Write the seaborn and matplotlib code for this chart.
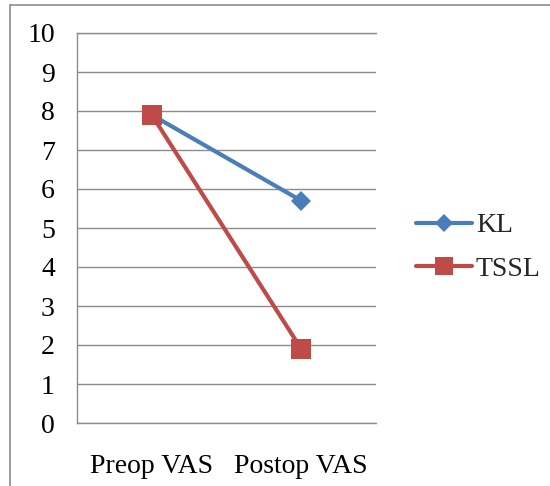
import matplotlib
matplotlib.use("Agg")
import matplotlib.pyplot as plt
from matplotlib.lines import Line2D
import seaborn as sns
import pandas as pd

categories = ["Preop VAS", "Postop VAS"]
kl_values = [7.9, 5.7]
tssl_values = [7.9, 1.9]
series_names = ["KL", "TSSL"]
y_ticks = list(range(0, 11))

df = pd.DataFrame({
    "cat": categories * 2,
    "val": kl_values + tssl_values,
    "series": [series_names[0]] * 2 + [series_names[1]] * 2,
})

sns.set_theme(style="white")
plt.rcParams["font.family"] = ["Liberation Serif", "DejaVu Serif"]

fig = plt.figure(figsize=(5.5, 4.86), dpi=100)
ax = fig.add_axes([77 / 550, 63 / 486, 299 / 550, 390 / 486])

palette = {"KL": "#4A7EBB", "TSSL": "#BE4B48"}
markers = {"KL": "D", "TSSL": "s"}
sizes_ms = {"KL": 10, "TSSL": 14}

for name in series_names:
    sub = df[df["series"] == name]
    sns.lineplot(data=sub, x="cat", y="val", ax=ax, color=palette[name],
                 marker=markers[name], markersize=sizes_ms[name],
                 markeredgewidth=0, linewidth=3, label=name, sort=False,
                 zorder=3)

ax.set_xlim(-0.5, 1.5)
ax.set_ylim(0, 10)
ax.set_yticks(y_ticks)
ax.set_xlabel("")
ax.set_ylabel("")
grid_c = "#8C8C8C"
ax.yaxis.grid(True, color=grid_c, linewidth=1.0)
ax.xaxis.grid(False)
for s in ["left", "top", "bottom"]:
    ax.spines[s].set_visible(True)
    ax.spines[s].set_color(grid_c)
    ax.spines[s].set_linewidth(1.0)
ax.spines["right"].set_visible(False)
ax.tick_params(axis="y", length=0, pad=16, labelsize=20, labelcolor="black")
ax.tick_params(axis="x", length=0, pad=22, labelsize=20, labelcolor="black")

leg = ax.legend(loc="center left", bbox_to_anchor=(1.097, 0.45), frameon=False,
                fontsize=20, handlelength=2.0, handletextpad=0.15,
                labelspacing=0.65, borderaxespad=0)
for h in leg.legend_handles:
    h.set_markersize(h.get_markersize() * 0.9)

fig.add_artist(Line2D([10 / 550, 10 / 550], [0, 1 - 5 / 486],
                      transform=fig.transFigure, color=grid_c, linewidth=1.2))
fig.add_artist(Line2D([10 / 550, 1], [1 - 5 / 486, 1 - 5 / 486],
                      transform=fig.transFigure, color=grid_c, linewidth=1.2))

fig.savefig("out.png", dpi=100, facecolor="white")
